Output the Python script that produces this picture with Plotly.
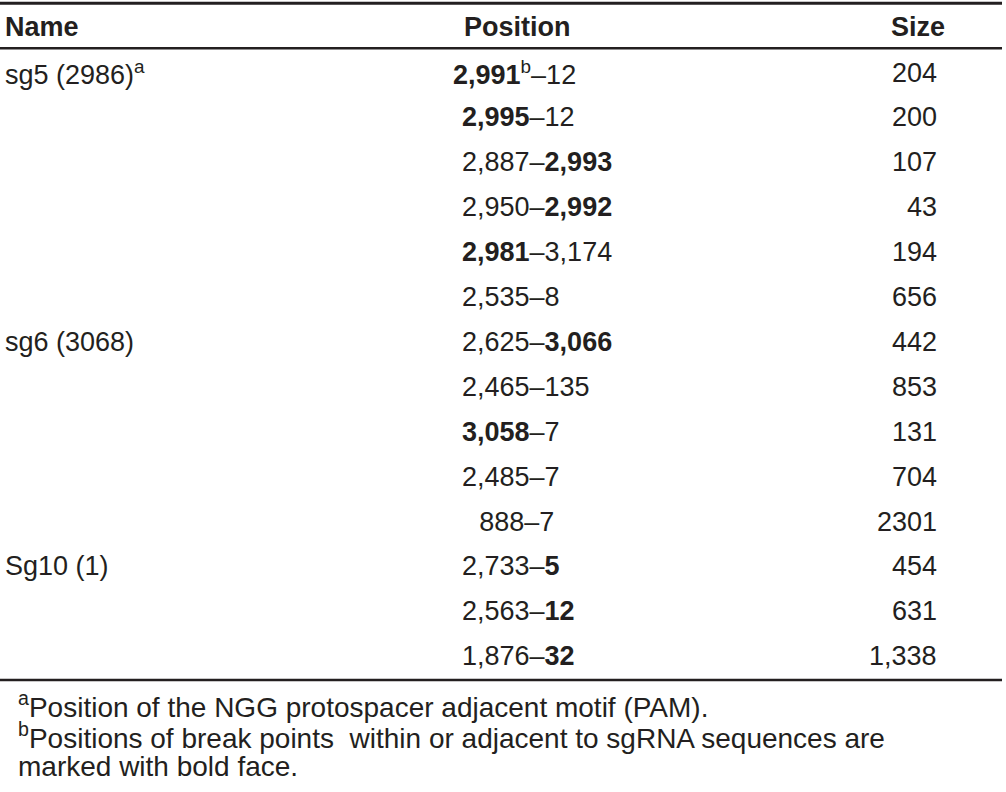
import plotly.graph_objects as go

headers = ["Name", "Position", "Size"]
names = ["sg5 (2986)<sup>a</sup>", "", "", "", "", "",
         "sg6 (3068)", "", "", "", "",
         "Sg10 (1)", "", ""]
positions = ["<b>2,991</b><sup>b</sup>–12", "<b>2,995</b>–12", "2,887–<b>2,993</b>",
             "2,950–<b>2,992</b>", "<b>2,981</b>–3,174", "2,535–8",
             "2,625–<b>3,066</b>", "2,465–135", "<b>3,058</b>–7", "2,485–7",
             "\u2007\u200a888–7",
             "2,733–<b>5</b>", "2,563–<b>12</b>", "1,876–<b>32</b>"]
sizes = ["204", "200", "107", "43", "194", "656",
         "442", "853", "131", "704", "2301",
         "454", "631", "1,338"]
footnotes = ["<sup>a</sup>Position of the NGG protospacer adjacent motif (PAM).",
             "<sup>b</sup>Positions of break points\u00a0 within or adjacent to sgRNA sequences are",
             "marked with bold face."]

W, H = 1006, 792
FONT = "Liberation Sans, Arial, Helvetica, sans-serif"
COLOR = "#231f20"
FS = 27
FS_FOOT = 28

x_name, x_pos, x_size = 3, 460, 939
x_pos_row_shift = {0: -9}   # first row hangs left in the original layout
y_header = 27
y_row0, pitch = 72.5, 44.9
x_foot, y_foot0, foot_pitch = 16, 705, 30.5

fig = go.Figure()
fig.add_trace(go.Scatter(x=[0, W], y=[0, H], mode="markers",
                         marker=dict(opacity=0), hoverinfo="skip", showlegend=False))

ann = []
def add(x, y, text, anchor="left", bold=False, size=FS):
    ann.append(dict(x=x, y=y, xref="x", yref="y", text=f"<b>{text}</b>" if bold else text,
                    showarrow=False, xanchor=anchor, yanchor="middle",
                    font=dict(family=FONT, size=size, color=COLOR)))

add(x_name, y_header, headers[0], "left", True)
add(462, y_header, headers[1], "left", True)
add(947, y_header, headers[2], "right", True)

for i in range(len(positions)):
    y = y_row0 + i * pitch
    if names[i]:
        add(x_name, y, names[i], "left")
    add(x_pos + x_pos_row_shift.get(i, 0), y, positions[i], "left")
    add(x_size, y, sizes[i], "right")

for j, t in enumerate(footnotes):
    add(x_foot, y_foot0 + j * foot_pitch, t, "left", size=FS_FOOT)

shapes = []
for yl, w in [(3.3, 3), (48.3, 2.5), (680, 2.5)]:
    shapes.append(dict(type="line", xref="x", yref="y", x0=0, x1=1002, y0=yl, y1=yl,
                       line=dict(color=COLOR, width=w)))

fig.update_layout(
    width=W, height=H, margin=dict(l=0, r=0, t=0, b=0),
    paper_bgcolor="white", plot_bgcolor="white",
    xaxis=dict(range=[0, W], visible=False, fixedrange=True),
    yaxis=dict(range=[H, 0], visible=False, fixedrange=True),
    annotations=ann, shapes=shapes, showlegend=False,
)
fig.write_html("out.html", post_script="document.body.style.margin='0px';",
               config={"displayModeBar": False})
